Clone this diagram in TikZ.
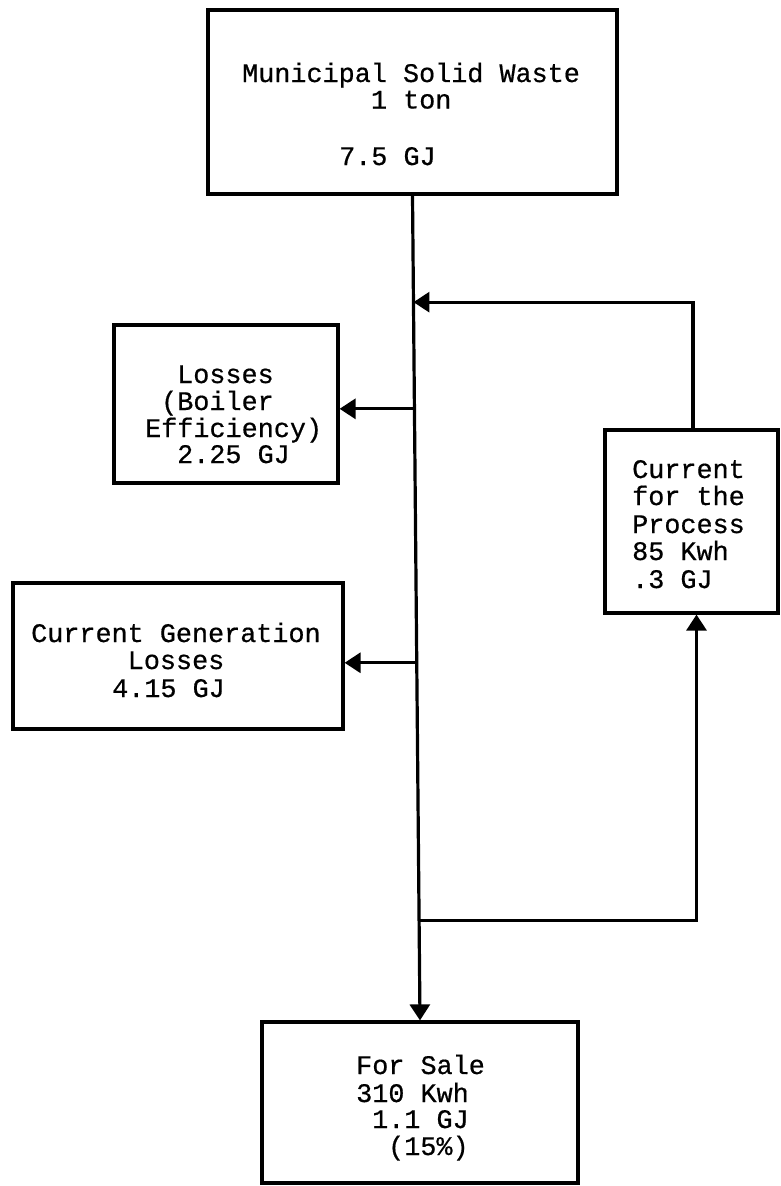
\documentclass[tikz,border=0pt]{standalone}
\usepackage{fontspec}
\setmonofont[FakeBold=0.6]{Liberation Mono}
\usetikzlibrary{arrows.meta,calc}
\begin{document}
\begin{tikzpicture}[x=1pt,y=-1pt,
  box/.style={draw, line width=3.2pt, inner sep=0pt, rectangle},
  txt/.style={inner sep=0pt, anchor=base west, font=\fontsize{26.8}{28}\selectfont\ttfamily},
  flow/.style={line width=3.2pt, -{Triangle[length=16pt,width=20pt]}}]
\fill[white] (0,0) rectangle (780,1186);
\useasboundingbox (0,0) rectangle (780,1186);

% boxes
\node[box, minimum width=409pt, minimum height=184pt] (msw) at (412.5,102) {};
\node[box, minimum width=224pt, minimum height=158pt] (boiler) at (226,404) {};
\node[box, minimum width=173pt, minimum height=183pt] (proc) at (691.5,521.5) {};
\node[box, minimum width=330pt, minimum height=146pt] (gen) at (178,656) {};
\node[box, minimum width=316pt, minimum height=161pt] (sale) at (420,1102.5) {};

% texts
\node[txt] (msw1) at (242,82) {Municipal Solid Waste};
\node[txt] (msw2) at (370.8,108.5) {1 ton};
\node[txt] (msw3) at (339,165) {7.5 GJ};

\node[txt] (b1) at (177,383) {Losses};
\node[txt] (b2) at (161,410) {(Boiler};
\node[txt] (b3) at (145,437) {Efficiency)};
\node[txt] (b4) at (177,463) {2.25 GJ};

\node[txt] (p1) at (632,478) {Current};
\node[txt] (p2) at (632,505) {for the};
\node[txt] (p3) at (632,533) {Process};
\node[txt] (p4) at (632,560) {85 Kwh};
\node[txt] (p5) at (632,588) {.3 GJ};

\node[txt] (g1) at (31,642) {Current Generation};
\node[txt] (g2) at (127.6,669) {Losses};
\node[txt] (g3) at (112,697) {4.15 GJ};

\node[txt] (s1) at (356,1074) {For Sale};
\node[txt] (s2) at (356,1102) {310 Kwh};
\node[txt] (s3) at (372,1128) {1.1 GJ};
\node[txt] (s4) at (388,1155) {(15\%)};

% junctions on the main line
\coordinate (j1) at ($(msw.south)!0.1292!(sale.north)$);
\coordinate (j2) at ($(msw.south)!0.2585!(sale.north)$);
\coordinate (j3) at ($(msw.south)!0.5664!(sale.north)$);
\coordinate (j4) at ($(msw.south)!0.8792!(sale.north)$);

% connectors
\draw[flow] (msw.south) -- (sale.north);
\draw[flow] ([xshift=1.5pt]proc.north) |- (j1);
\draw[flow] (j2) -- (boiler.east |- j2);
\draw[flow] (j3) -- (gen.east |- j3);
\draw[flow] (j4) -| ([xshift=5pt]proc.south);
\end{tikzpicture}
\end{document}
